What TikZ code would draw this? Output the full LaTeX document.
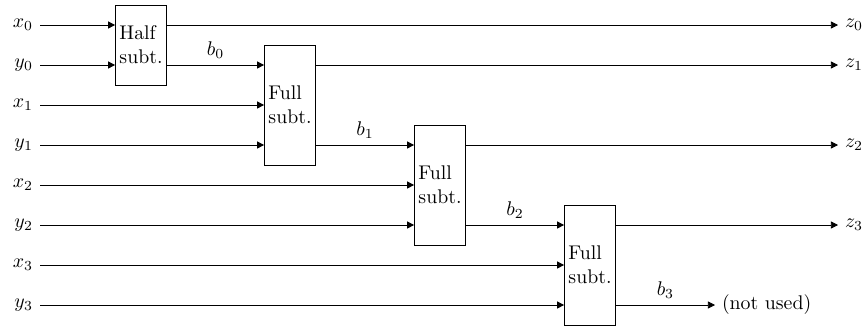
\documentclass[tikz,border=0pt]{standalone}
\usetikzlibrary{arrows.meta}
\tikzset{
  subt/.style={draw, align=left, inner xsep=2pt, minimum width=0.8875cm},
  wire/.style={-{Triangle[length=3.6pt,width=3.6pt]}}
}
\begin{document}
\begin{tikzpicture}[x=0.71cm,y=-0.71cm]
\useasboundingbox (0,-0.625) rectangle (21.625,7.525);

% inputs
\node[anchor=east] (x0) at (1,0) {$x_0$};
\node[anchor=east] (y0) at (1,1) {$y_0$};
\node[anchor=east] (x1) at (1,2) {$x_1$};
\node[anchor=east] (y1) at (1,3) {$y_1$};
\node[anchor=east] (x2) at (1,4) {$x_2$};
\node[anchor=east] (y2) at (1,5) {$y_2$};
\node[anchor=east] (x3) at (1,6) {$x_3$};
\node[anchor=east] (y3) at (1,7) {$y_3$};

% subtractor blocks
\node[subt, minimum height=1.42cm] (hs) at (3.525,0.5) {Half\\subt.};
\node[subt, minimum height=2.13cm] (fs1) at (7.25,2) {Full\\subt.};
\node[subt, minimum height=2.13cm] (fs2) at (11,4) {Full\\subt.};
\node[subt, minimum height=2.13cm] (fs3) at (14.75,6) {Full\\subt.};

% outputs
\node[anchor=west] (z0) at (20.95,0) {$z_0$};
\node[anchor=west] (z1) at (20.95,1) {$z_1$};
\node[anchor=west] (z2) at (20.95,3) {$z_2$};
\node[anchor=west] (z3) at (20.95,5) {$z_3$};
\node[anchor=west] (nu) at (17.875,7) {(not used)};

\draw[wire] (x0.east) -- (hs.west |- x0);
\draw[wire] (y0.east) -- (hs.west |- y0);
\draw[wire] (x1.east) -- (fs1.west |- x1);
\draw[wire] (y1.east) -- (fs1.west |- y1);
\draw[wire] (x2.east) -- (fs2.west |- x2);
\draw[wire] (y2.east) -- (fs2.west |- y2);
\draw[wire] (x3.east) -- (fs3.west |- x3);
\draw[wire] (y3.east) -- (fs3.west |- y3);

\draw[wire] (hs.east |- z0) -- (z0.west);
\draw[wire] (fs1.east |- z1) -- (z1.west);
\draw[wire] (fs2.east |- z2) -- (z2.west);
\draw[wire] (fs3.east |- z3) -- (z3.west);

% borrows
\draw[wire] (hs.east |- y0) -- node[above] {$b_0$} (fs1.west |- y0);
\draw[wire] (fs1.east |- y1) -- node[above] {$b_1$} (fs2.west |- y1);
\draw[wire] (fs2.east |- y2) -- node[above] {$b_2$} (fs3.west |- y2);
\draw[wire] (fs3.east |- y3) -- node[above] {$b_3$} (nu.west);
\end{tikzpicture}
\end{document}
